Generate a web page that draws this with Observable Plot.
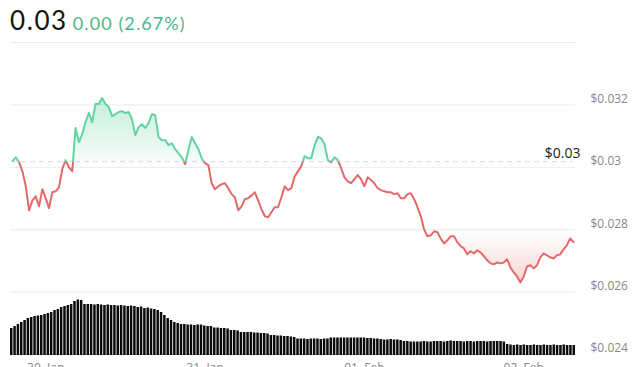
<!DOCTYPE html>
<html>
<head>
<meta charset="utf-8">
<script src="https://cdn.jsdelivr.net/npm/d3@7"></script>
<script src="https://cdn.jsdelivr.net/npm/@observablehq/plot@0.6"></script>
<style>
  html, body { margin: 0; padding: 0; background: #fff; }
  #wrap { position: relative; width: 640px; height: 367px; overflow: hidden; font-family: "Lato", "Open Sans", sans-serif; }
  #head { height: 35px; padding-left: 10px; display: flex; align-items: baseline; box-sizing: border-box; padding-top: 4px; }
  #price { font-size: 26px; color: #151515; letter-spacing: 1.6px; }
  #chg { font-size: 18px; color: #4db58c; margin-left: 5px; letter-spacing: 1.1px; }
  #vol { position: absolute; left: 0; top: 299px; }
</style>
</head>
<body>
<div id="wrap">
  <div id="head"><span id="price"></span><span id="chg"></span></div>
  <div id="main"></div>
  <div id="vol"></div>
</div>
<script>
// ---- data ----
const currentPrice = "0.03";
const changeText = "0.00 (2.67%)";
const baseline = 0.03018;
const baselineLabel = "$0.03";
const startTime = Date.UTC(2024, 0, 29, 19, 0);
const stepMinutes = 30;
const xTicks = [Date.UTC(2024,0,30), Date.UTC(2024,0,31), Date.UTC(2024,1,1), Date.UTC(2024,1,2)];
const yTicks = [0.024, 0.026, 0.028, 0.030, 0.032];
const gridValues = [0.026, 0.028, 0.030, 0.032, 0.034];

const prices = [
  0.03020,0.03032,0.03016,0.02987,0.02939,0.02862,0.02894,0.02907,0.02875,0.02930,
  0.02901,0.02869,0.02920,0.02923,0.02936,0.02994,0.03023,0.03000,0.02987,0.03126,
  0.03081,0.03106,0.03145,0.03174,0.03145,0.03203,0.03203,0.03222,0.03203,0.03193,
  0.03164,0.03170,0.03177,0.03180,0.03174,0.03177,0.03154,0.03103,0.03129,0.03138,
  0.03126,0.03142,0.03170,0.03167,0.03097,0.03087,0.03087,0.03071,0.03077,0.03058,
  0.03045,0.03032,0.03010,0.03055,0.03097,0.03077,0.03058,0.03029,0.03013,0.03007,
  0.02949,0.02930,0.02939,0.02946,0.02949,0.02933,0.02914,0.02904,0.02862,0.02875,
  0.02898,0.02901,0.02910,0.02920,0.02894,0.02866,0.02843,0.02840,0.02856,0.02872,
  0.02872,0.02904,0.02939,0.02927,0.02933,0.02971,0.02987,0.03004,0.03036,0.03029,
  0.03029,0.03071,0.03097,0.03093,0.03074,0.03023,0.03016,0.03032,0.03023,0.02997,
  0.02968,0.02955,0.02949,0.02962,0.02975,0.02962,0.02939,0.02968,0.02959,0.02949,
  0.02933,0.02927,0.02923,0.02920,0.02920,0.02914,0.02917,0.02901,0.02901,0.02914,
  0.02917,0.02898,0.02872,0.02843,0.02801,0.02779,0.02782,0.02795,0.02792,0.02772,
  0.02756,0.02766,0.02779,0.02779,0.02760,0.02747,0.02740,0.02721,0.02731,0.02724,
  0.02734,0.02727,0.02715,0.02702,0.02692,0.02689,0.02695,0.02692,0.02695,0.02705,
  0.02679,0.02663,0.02650,0.02631,0.02650,0.02682,0.02686,0.02676,0.02686,0.02711,
  0.02724,0.02718,0.02711,0.02708,0.02718,0.02721,0.02737,0.02750,0.02772,0.02760
];

// volume, thousands (arbitrary units)
const volumes = [
  27,29,31,33,35,37,38,39,39.5,40,
  41,42,43,45,46,48,49,50,51,54,
  55.5,55,51,51,51,50.5,51,50.5,50,50.5,
  50,50,49.5,50,49.5,49,49.5,49,48,48.5,
  47,47.5,46.5,46,45,43,40,37,35,33,
  32,31,31,30.5,30.5,30,30.5,30.5,29.5,29,
  29,27.5,27.5,27,27,26.5,25,25,24.5,23,
  23,23,23,22.5,22.5,22,22,21.5,20,20,
  19.5,19.5,19,19,18.5,18,16.5,16.5,16.5,16,
  16.5,16.5,16.5,16,16.5,16.5,17.5,17.5,17.5,17.5,
  17.5,17.5,17.5,17.5,17.5,17.5,17.5,17,17,16.5,
  16.5,16,15.5,15.5,16,15.5,15.5,15,14,14,
  13.5,13.5,13.5,13.5,14,13.5,13.5,14,14,14,
  13.5,14,14.5,14,14,14,13.5,14,14,13.5,
  14,14,14,13.5,14,14,14,14,13.5,11,
  10.5,10,10.5,10,10.5,10,10,10.5,10,10,
  10.5,10,10,10.5,10,10,10.5,10,10,10
];

// ---- build ----
document.getElementById("price").textContent = currentPrice;
document.getElementById("chg").textContent = changeText;

const times = prices.map((_, i) => new Date(startTime + i * stepMinutes * 60000));
const rows = times.map((t, i) => ({t, p: prices[i], v: volumes[i]}));

const green = "#63d3a2";
const red = "#e4696a";
const fmt = d => "$" + (+d.toFixed(3));

const chart = Plot.plot({
  width: 640, height: 332,
  marginTop: 7, marginBottom: 13, marginLeft: 12, marginRight: 67,
  style: {fontFamily: "Open Sans, sans-serif", fontSize: "12px", color: "#888", background: "transparent", overflow: "visible"},
  x: {type: "utc", domain: [times[0], times[times.length - 1]], ticks: xTicks.map(d => new Date(d)),
      tickFormat: d3.utcFormat("%d. %b"), tickSize: 0, tickPadding: 9, label: null},
  y: {domain: [0.024, 0.034], axis: null},
  marks: [
    Plot.ruleY(gridValues, {stroke: "#ebebeb", strokeWidth: 1, x1: times[0], x2: times[times.length - 1], insetLeft: -2, insetRight: -2}),
    Plot.ruleY([baseline], {stroke: "#d9d9d9", strokeDasharray: "5,4"}),
    Plot.areaY(rows, {x: "t", y1: () => baseline, y2: "p", fill: green, ariaDescription: "area-up"}),
    Plot.areaY(rows, {x: "t", y1: () => baseline, y2: "p", fill: red, ariaDescription: "area-down"}),
    Plot.lineY(rows, {x: "t", y: "p", stroke: green, strokeWidth: 2, ariaDescription: "line-up"}),
    Plot.lineY(rows, {x: "t", y: "p", stroke: red, strokeWidth: 2, ariaDescription: "line-down"}),
    Plot.text(yTicks, {y: d => d, text: fmt, frameAnchor: "right", textAnchor: "start", dx: 17, dy: -6, fill: "#888", fontSize: 12, letterSpacing: "0.4px"}),
    Plot.text([baseline], {y: d => d, text: [baselineLabel], frameAnchor: "right", textAnchor: "end", dx: 7, dy: -8, fill: "#222", fontSize: 14})
  ]
});
document.getElementById("main").appendChild(chart);

// clip and gradients relative to the baseline
const ys = chart.scale("y");
const yb = ys.apply(baseline);
const ns = "http://www.w3.org/2000/svg";
const defs = document.createElementNS(ns, "defs");
function mk(tag, attrs, parent) {
  const e = document.createElementNS(ns, tag);
  for (const k in attrs) e.setAttribute(k, attrs[k]);
  if (parent) parent.appendChild(e);
  return e;
}
const cA = mk("clipPath", {id: "clipAbove", clipPathUnits: "userSpaceOnUse"}, defs);
mk("rect", {x: -10, y: -10, width: 700, height: yb + 10}, cA);
const cB = mk("clipPath", {id: "clipBelow", clipPathUnits: "userSpaceOnUse"}, defs);
mk("rect", {x: -10, y: yb, width: 700, height: 400}, cB);
const gG = mk("linearGradient", {id: "gradUp", gradientUnits: "userSpaceOnUse", x1: 0, x2: 0, y1: ys.apply(0.0322), y2: yb}, defs);
mk("stop", {offset: 0, "stop-color": green, "stop-opacity": 0.38}, gG);
mk("stop", {offset: 1, "stop-color": green, "stop-opacity": 0.06}, gG);
const gR = mk("linearGradient", {id: "gradDown", gradientUnits: "userSpaceOnUse", x1: 0, x2: 0, y1: ys.apply(0.0279), y2: ys.apply(0.0262)}, defs);
mk("stop", {offset: 0, "stop-color": red, "stop-opacity": 0}, gR);
mk("stop", {offset: 1, "stop-color": red, "stop-opacity": 0.3}, gR);
chart.insertBefore(defs, chart.firstChild);

function setup(label, clip, fill) {
  const g = chart.querySelector(`g[aria-description="${label}"]`);
  if (!g) return;
  g.setAttribute("clip-path", `url(#${clip})`);
  if (fill) g.setAttribute("fill", fill), g.querySelectorAll("path").forEach(p => p.setAttribute("fill", fill));
}
setup("area-up", "clipAbove", "url(#gradUp)");
setup("area-down", "clipBelow", "url(#gradDown)");
setup("line-up", "clipAbove");
setup("line-down", "clipBelow");

// volume bars
const volChart = Plot.plot({
  width: 640, height: 56,
  marginTop: 0, marginBottom: 0, marginLeft: 10, marginRight: 65,
  style: {background: "transparent"},
  x: {type: "band", domain: times, paddingInner: 0.25, paddingOuter: 0, axis: null},
  y: {domain: [0, 56], axis: null},
  marks: [
    Plot.barY(rows, {x: "t", y: "v", fill: "#0b0b0b"}),
    Plot.ruleY([0], {stroke: "#0b0b0b", strokeWidth: 1.5})
  ]
});
document.getElementById("vol").appendChild(volChart);
</script>
</body>
</html>
